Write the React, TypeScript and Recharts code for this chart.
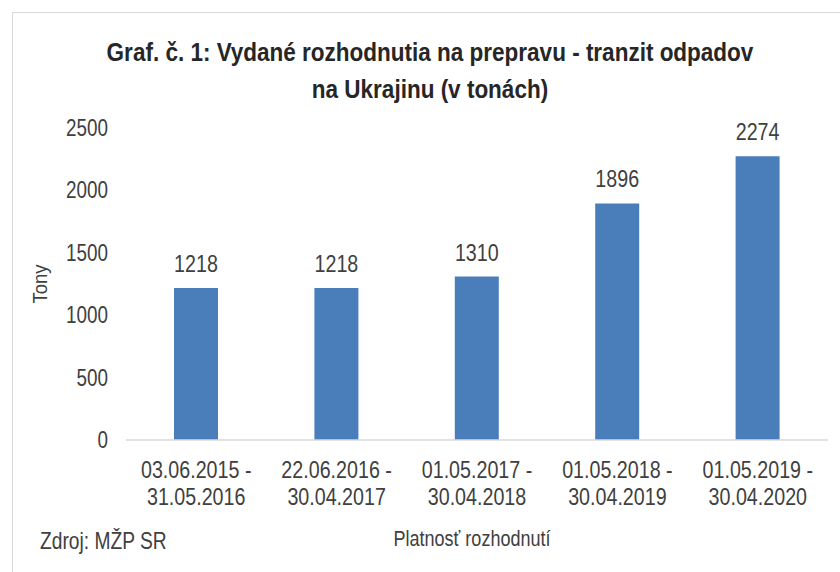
import { BarChart, Bar, XAxis, YAxis, LabelList, Label } from 'recharts';

const periodsFrom = ['03.06.2015 -', '22.06.2016 -', '01.05.2017 -', '01.05.2018 -', '01.05.2019 -'];
const periodsTo = ['31.05.2016', '30.04.2017', '30.04.2018', '30.04.2019', '30.04.2020'];
const tons = [1218, 1218, 1310, 1896, 2274];
const yTicks = [0, 500, 1000, 1500, 2000, 2500];

const data = tons.map((value, i) => ({
  period: periodsFrom[i] + '|' + periodsTo[i],
  value,
}));

// no Arial Narrow here, so squeeze Liberation Sans horizontally
const FONT = "'Liberation Sans', Arial, sans-serif";
const TEXT = '#404040';
const SQUEEZE = 0.82;

function NarrowText(props: any) {
  const { x, y, anchor = 'middle', size = 24, sx = SQUEEZE, rotate = 0, children } = props;
  return (
    <text
      transform={`translate(${x} ${y}) rotate(${rotate}) scale(${sx} 1)`}
      textAnchor={anchor}
      fill={TEXT}
      fontSize={size}
      fontFamily={FONT}
    >
      {children}
    </text>
  );
}

function PeriodTick(props: any) {
  const { x, y, payload } = props;
  const [from, to] = String(payload.value).split('|');
  return (
    <g>
      <NarrowText x={x} y={y + 30}>{from}</NarrowText>
      <NarrowText x={x} y={y + 57}>{to}</NarrowText>
    </g>
  );
}

function TonTick(props: any) {
  const { x, y, payload } = props;
  return (
    <NarrowText x={x} y={y + 8} anchor="end" size={23}>
      {payload.value}
    </NarrowText>
  );
}

function ValueLabel(props: any) {
  const { x, y, width, value } = props;
  return (
    <NarrowText x={x + width / 2} y={y - 16}>
      {value}
    </NarrowText>
  );
}

function TonyLabel(props: any) {
  const { viewBox } = props;
  const cx = viewBox.x + 47;
  const cy = viewBox.y + viewBox.height / 2;
  return (
    <NarrowText x={cx} y={cy} rotate={-90} size={21} sx={0.88}>
      Tony
    </NarrowText>
  );
}

function PlatnostLabel(props: any) {
  const { viewBox } = props;
  const cx = viewBox.x + viewBox.width / 2 - 5;
  return (
    <NarrowText x={cx} y={viewBox.y + 106} size={22}>
      Platnosť rozhodnutí
    </NarrowText>
  );
}

export default function App() {
  return (
    <div style={{ position: 'absolute', left: 0, top: 0, width: 840, height: 572, background: '#fff', overflow: 'hidden' }}>
      <div
        style={{
          position: 'absolute',
          left: 12,
          top: 12,
          width: 840,
          height: 572,
          borderTop: '1px solid #d9d9d9',
          borderLeft: '1px solid #d9d9d9',
        }}
      />
      <div
        style={{
          position: 'absolute',
          left: 0,
          width: 860,
          top: 34,
          textAlign: 'center',
          fontFamily: FONT,
          fontWeight: 'bold',
          fontSize: 25,
          lineHeight: '37px',
          color: '#262626',
          transform: 'scaleX(0.9)',
          transformOrigin: '430px 0',
        }}
      >
        Graf. č. 1: Vydané rozhodnutia na prepravu - tranzit odpadov
        <br />
        na Ukrajinu (v tonách)
      </div>
      <div style={{ position: 'absolute', left: 0, top: 0 }}>
        <BarChart
          width={840}
          height={572}
          data={data}
          margin={{ top: 128, right: 12, left: 0, bottom: 0 }}
        >
          <XAxis
            dataKey="period"
            height={132}
            axisLine={{ stroke: '#d9d9d9', strokeWidth: 1.5 }}
            tickLine={false}
            tick={<PeriodTick />}
            interval={0}
          >
            <Label content={<PlatnostLabel />} />
          </XAxis>
          <YAxis
            width={126}
            domain={[0, 2500]}
            ticks={yTicks}
            axisLine={false}
            tickLine={false}
            tickMargin={12}
            tick={<TonTick />}
          >
            <Label content={<TonyLabel />} />
          </YAxis>
          <Bar dataKey="value" fill="#4a7ebb" barSize={44} isAnimationActive={false}>
            <LabelList dataKey="value" content={<ValueLabel />} />
          </Bar>
        </BarChart>
      </div>
      <div
        style={{
          position: 'absolute',
          left: 40,
          top: 527,
          fontFamily: FONT,
          fontSize: 24,
          color: TEXT,
          transform: 'scaleX(0.8)',
          transformOrigin: '0 0',
          whiteSpace: 'nowrap',
        }}
      >
        Zdroj: MŽP SR
      </div>
    </div>
  );
}
